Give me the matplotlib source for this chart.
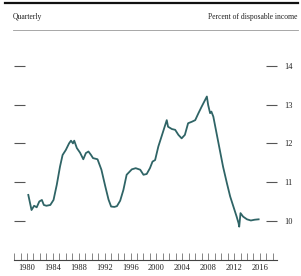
import numpy as np
import matplotlib
matplotlib.use('Agg')
import matplotlib.pyplot as plt

# ---- data (year, percent of disposable income) ----
years = [1980.2, 1980.7, 1981.1, 1981.5, 1981.9, 1982.3, 1982.6, 1983.0, 1983.6,
         1984.1, 1984.6, 1985.1, 1985.5, 1986.0, 1986.5, 1986.8, 1987.1, 1987.3,
         1987.7, 1988.2, 1988.7, 1989.1, 1989.5, 1989.9, 1990.2, 1990.9, 1991.5,
         1992.1, 1992.6, 1993.0, 1993.5, 1993.9, 1994.4, 1994.9, 1995.4, 1996.2,
         1996.8, 1997.5, 1998.0, 1998.5, 1999.0, 1999.4, 1999.8, 2000.3, 2000.8,
         2001.2, 2001.6, 2001.8, 2002.4, 2002.9, 2003.4, 2003.9, 2004.4, 2004.9,
         2005.5, 2006.0, 2006.5, 2007.0, 2007.4, 2007.8, 2008.0, 2008.3, 2008.5,
         2008.8, 2009.3, 2009.8, 2010.3, 2010.9, 2011.4, 2011.9, 2012.4, 2012.7,
         2012.8, 2013.0, 2013.4, 2014.0, 2014.6, 2015.2, 2015.8]
debt = [10.67, 10.28, 10.39, 10.35, 10.50, 10.54, 10.41, 10.39, 10.41,
        10.54, 10.93, 11.40, 11.70, 11.83, 12.00, 12.07, 12.00, 12.07,
        11.88, 11.76, 11.59, 11.75, 11.79, 11.70, 11.62, 11.59, 11.32,
        10.89, 10.55, 10.37, 10.36, 10.38, 10.52, 10.80, 11.19, 11.33,
        11.36, 11.32, 11.19, 11.21, 11.36, 11.53, 11.57, 11.92, 12.18,
        12.39, 12.60, 12.43, 12.37, 12.35, 12.22, 12.13, 12.22, 12.52,
        12.56, 12.60, 12.78, 12.95, 13.08, 13.21, 12.99, 12.78, 12.82,
        12.69, 12.26, 11.83, 11.40, 10.97, 10.63, 10.37, 10.11, 9.94,
        9.85, 10.20, 10.11, 10.04, 10.01, 10.03, 10.04]

tick_years = list(range(1978, 2019))
label_years = list(range(1980, 2017, 4))
y_ticks = [10, 11, 12, 13, 14]

W, H = 301, 276
fig = plt.figure(figsize=(W / 100, H / 100), dpi=100)
plt.rcParams['font.family'] = ['Liberation Serif', 'DejaVu Serif']

# axes placed in pixel coords
ax = fig.add_axes([14 / W, 16 / H, (277 - 14) / W, (238 - 16) / H])
ax.plot(years, debt, color='#2f6466', lw=1.3)

ax.set_xlim(1977.99, 2018.64)
ax.set_ylim(8.99, 14.72)

for s in ['top', 'left', 'right']:
    ax.spines[s].set_visible(False)
ax.spines['bottom'].set_linewidth(0.8)
ax.spines['bottom'].set_color('#444444')

ax.set_xticks(tick_years)
ax.set_xticklabels([str(y) if y in label_years else '' for y in tick_years],
                   fontsize=6, color='#222222')
ax.tick_params(axis='x', direction='in', length=5, width=0.5, color='#555555', pad=3)

ax.set_yticks(y_ticks)
ax.set_yticklabels([str(v) for v in y_ticks], fontsize=6, color='#222222')
ax.tick_params(axis='y', direction='in', length=8, width=0.8, color='#555555',
               left=True, right=True, labelleft=False, labelright=True, pad=5)

# header rules and titles
fig.add_artist(plt.Line2D([5 / W, 298 / W], [1 - 3 / H, 1 - 3 / H], color='#111111', lw=1.6))
fig.add_artist(plt.Line2D([13 / W, 298 / W], [1 - 30 / H, 1 - 30 / H], color='#999999', lw=0.6))
fig.text(13 / W, 1 - 17 / H, 'Quarterly', fontsize=5.5, ha='left', va='center', color='#222222')
fig.text(297 / W, 1 - 17 / H, 'Percent of disposable income', fontsize=5.5,
         ha='right', va='center', color='#222222')

fig.savefig('out.png', dpi=100)
